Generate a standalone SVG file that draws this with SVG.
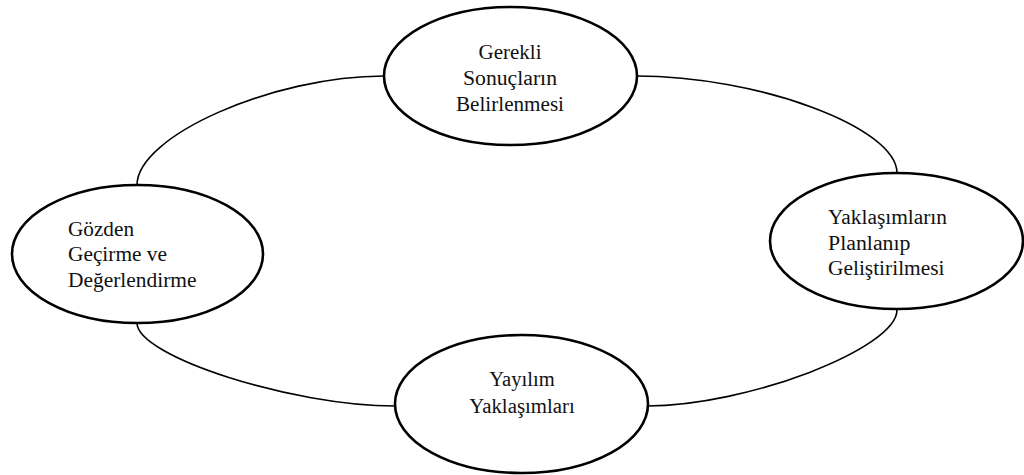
<svg xmlns="http://www.w3.org/2000/svg" width="1024" height="475" viewBox="0 0 1024 475">
<style>
.node ellipse { fill: #ffffff; stroke: #000000; stroke-width: 2.6; }
.node text { font-family: "Liberation Serif", "DejaVu Serif", serif; font-size: 20px; fill: #111111; }
.mid { text-anchor: middle; }
.conn path { fill: none; stroke: #000000; stroke-width: 1.6; }
</style>
<rect width="1024" height="475" fill="#ffffff"/>
<g id="connectors" class="conn">
<path d="M636,76 C758.7,76 897,127.4 897,173"/>
<path d="M384,76 C273,76 137,136 137,185"/>
<path d="M137,323 C137,356.2 291.8,406 395,406"/>
<path d="M647,406 C747,406 897,348.4 897,310"/>
</g>
<g id="node-top" class="node">
<ellipse cx="510.5" cy="76" rx="126.5" ry="69"/>
<text class="mid" x="510" y="59" textLength="63" lengthAdjust="spacingAndGlyphs">Gerekli</text>
<text class="mid" x="510" y="85" textLength="94" lengthAdjust="spacingAndGlyphs">Sonuçların</text>
<text class="mid" x="510" y="111" textLength="108" lengthAdjust="spacingAndGlyphs">Belirlenmesi</text>
</g>
<g id="node-right" class="node">
<ellipse cx="896.5" cy="241" rx="126.5" ry="68"/>
<text x="828" y="224" textLength="119" lengthAdjust="spacingAndGlyphs">Yaklaşımların</text>
<text x="828" y="250" textLength="82.5" lengthAdjust="spacingAndGlyphs">Planlanıp</text>
<text x="828" y="275" textLength="116.5" lengthAdjust="spacingAndGlyphs">Geliştirilmesi</text>
</g>
<g id="node-bottom" class="node">
<ellipse cx="521.5" cy="404" rx="126.5" ry="69"/>
<text class="mid" x="522" y="386" textLength="65.5" lengthAdjust="spacingAndGlyphs">Yayılım</text>
<text class="mid" x="522" y="413" textLength="105.5" lengthAdjust="spacingAndGlyphs">Yaklaşımları</text>
</g>
<g id="node-left" class="node">
<ellipse cx="137.5" cy="254" rx="125.5" ry="69"/>
<text x="68" y="236" textLength="66" lengthAdjust="spacingAndGlyphs">Gözden</text>
<text x="68" y="261" textLength="99" lengthAdjust="spacingAndGlyphs">Geçirme ve</text>
<text x="68" y="287" textLength="128.5" lengthAdjust="spacingAndGlyphs">Değerlendirme</text>
</g>
</svg>
